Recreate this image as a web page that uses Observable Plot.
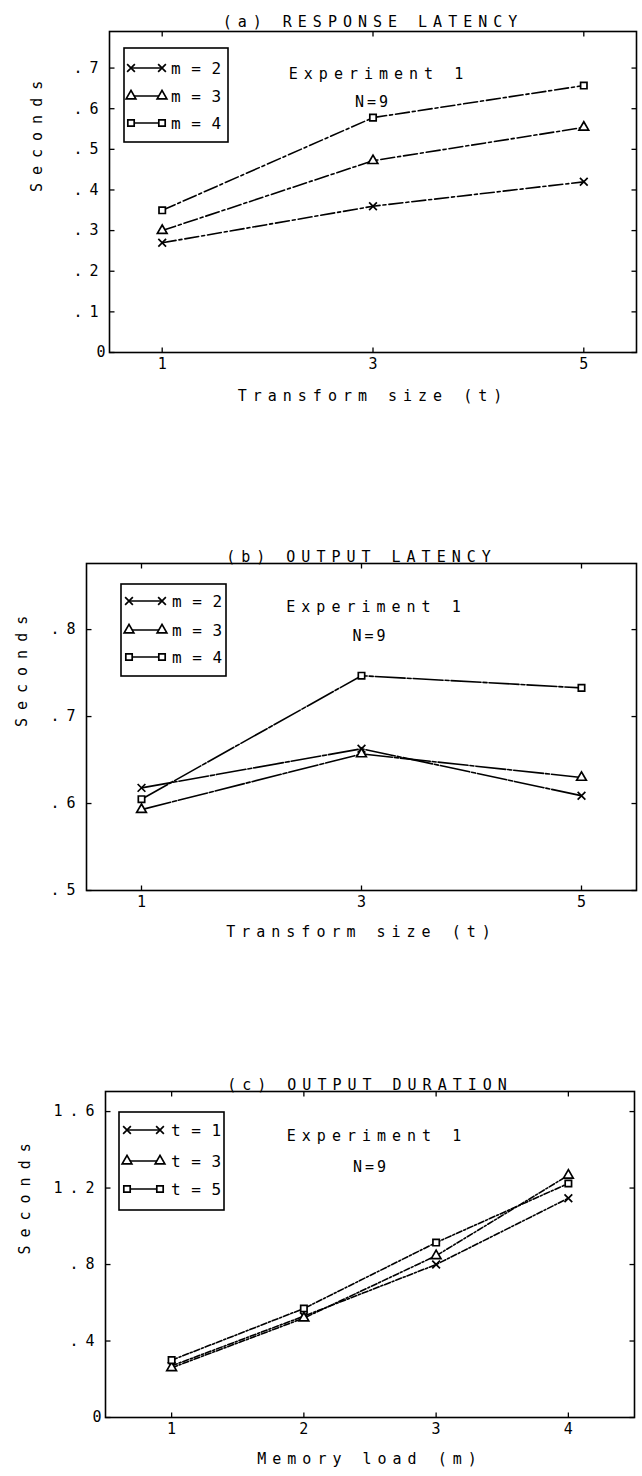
<!DOCTYPE html>
<html><head><meta charset="utf-8">
<script src="https://cdn.jsdelivr.net/npm/d3@7"></script>
<script src="https://cdn.jsdelivr.net/npm/@observablehq/plot@0.6"></script>
<style>
body{margin:0;background:#fff;}
#root{position:relative;width:642px;height:1476px;overflow:hidden;background:#fff;}
.panel{position:absolute;left:0;}
.panel svg text{font-family:"DejaVu Sans Mono",monospace;fill:#000;}
</style></head><body><div id="root"></div>
<script>
// ---- data ----
const tSizes = [1, 3, 5];
const memLoads = [1, 2, 3, 4];
const mNames = ["m = 2", "m = 3", "m = 4"];
const tNames = ["t = 1", "t = 3", "t = 5"];
const symbolNames = ["times", "triangle", "square"];

// (a) response latency (s) by transform size, one array per memory load
const respM2 = [0.27, 0.36, 0.42];
const respM3 = [0.30, 0.472, 0.554];
const respM4 = [0.35, 0.578, 0.657];
// (b) output latency (s)
const outLatM2 = [0.618, 0.663, 0.609];
const outLatM3 = [0.593, 0.657, 0.630];
const outLatM4 = [0.605, 0.747, 0.733];
// (c) output duration (s) by memory load, one array per transform size
const durT1 = [0.27, 0.53, 0.80, 1.147];
const durT3 = [0.26, 0.52, 0.846, 1.267];
const durT5 = [0.30, 0.57, 0.915, 1.224];

const yTicksA = [0, 0.1, 0.2, 0.3, 0.4, 0.5, 0.6, 0.7];
const yTicksB = [0.5, 0.6, 0.7, 0.8];
const yTicksC = [0, 0.4, 0.8, 1.2, 1.6];

function rows(xs, seriesList, names) {
  const out = [];
  seriesList.forEach((vals, i) => vals.forEach((v, j) => out.push({x: xs[j], y: v, s: names[i]})));
  return out;
}
const fmtY = d => d === 0 ? "0" : d3.format(".1f")(d).replace(/^0/, "");

const tickSym = (dx, dy) => ({draw(ctx) { ctx.moveTo(0, 0); ctx.lineTo(dx, dy); }});
const TL = 5;

function panel(cfg) {
  const data = rows(cfg.xs, cfg.series, cfg.names);
  const [x0, x1] = cfg.xd, [y0, y1] = cfg.yd;
  const svg = Plot.plot({
    width: 642, height: cfg.h,
    marginTop: cfg.mt, marginBottom: cfg.mb, marginLeft: cfg.ml, marginRight: cfg.mr,
    x: {domain: cfg.xd}, y: {domain: cfg.yd},
    symbol: {domain: cfg.names, range: symbolNames},
    style: {fontFamily: "DejaVu Sans Mono", fontSize: "15px", background: "white", color: "black", overflow: "visible"},
    marks: [
      Plot.frame({stroke: "black", strokeWidth: 1.6}),
      Plot.axisY(cfg.yTicks, {anchor: "left", tickSize: 0, tickPadding: cfg.yPad, tickFormat: fmtY, label: null, fontSize: 15}),
      Plot.axisX(cfg.xs, {anchor: "bottom", tickSize: 0, tickPadding: 6, tickFormat: d => String(d), label: null, fontSize: 15}),
      Plot.dot(cfg.yTicks, {x: x0, y: d => d, symbol: tickSym(TL, 0), fill: "none", stroke: "black", strokeWidth: 1.3}),
      Plot.dot(cfg.yTicks, {x: x1, y: d => d, symbol: tickSym(-TL, 0), fill: "none", stroke: "black", strokeWidth: 1.3}),
      Plot.dot(cfg.xs, {x: d => d, y: y0, symbol: tickSym(0, -TL), fill: "none", stroke: "black", strokeWidth: 1.3}),
      Plot.dot(cfg.xs, {x: d => d, y: y1, symbol: tickSym(0, TL), fill: "none", stroke: "black", strokeWidth: 1.3}),
      Plot.line(data, {x: "x", y: "y", z: "s", stroke: "black", strokeWidth: 1.6, strokeDasharray: cfg.dash}),
      Plot.dot(data, {x: "x", y: "y", symbol: "s", r: 3.6, fill: "white", stroke: "black", strokeWidth: 1.7}),
      Plot.text([cfg.title], {frameAnchor: "top", dy: cfg.titleDy, fontSize: 15}),
      Plot.text(["Experiment 1"], {frameAnchor: "top", dx: cfg.expDx, dy: cfg.expDy, fontSize: 15}),
      Plot.text(["N=9"], {frameAnchor: "top", dx: cfg.expDx - 6, dy: cfg.nDy, fontSize: 15}),
      Plot.text([cfg.xLabel], {frameAnchor: "bottom", dy: cfg.xLabelDy, fontSize: 15}),
      Plot.text(["Seconds"], {frameAnchor: "left", dx: cfg.yLabelDx, rotate: -90, fontSize: 15})
    ]
  });
  const s = d3.select(svg);
  s.selectAll("text").each(function() {
    const t = this.textContent;
    const el = d3.select(this);
    if (t === cfg.title || t === cfg.xLabel || t === "Experiment 1") el.style("letter-spacing", "6px");
    else if (t === "Seconds") el.style("letter-spacing", "8px");
    else if (t === "N=9") el.style("letter-spacing", "3px");
    else if (/^[0-9.]+$/.test(t) && t.length > 1) el.style("letter-spacing", "7px");
  });
  // legend box
  const g = s.append("g").attr("transform", `translate(${cfg.ml},${cfg.mt})`);
  const L = cfg.legend;
  g.append("rect").attr("x", L.x0).attr("y", L.y0).attr("width", L.x1 - L.x0).attr("height", L.y1 - L.y0)
    .attr("fill", "white").attr("stroke", "black").attr("stroke-width", 1.6);
  const symFns = [d3.symbolTimes, d3.symbolTriangle, d3.symbolSquare];
  cfg.names.forEach((name, i) => {
    const y = L.rows[i];
    g.append("line").attr("x1", L.lx0).attr("x2", L.lx1).attr("y1", y).attr("y2", y)
      .attr("stroke", "black").attr("stroke-width", 1.5);
    [L.lx0, L.lx1].forEach(x => {
      g.append("path").attr("d", d3.symbol(symFns[i], 3.6 * 3.6 * Math.PI)())
        .attr("transform", `translate(${x},${y})`).attr("fill", "white").attr("stroke", "black").attr("stroke-width", 1.7);
    });
    g.append("text").attr("x", L.tx).attr("y", y).attr("dy", "0.35em").attr("font-size", 16)
      .attr("text-anchor", "start").style("letter-spacing", "0.5px").text(name);
  });
  const div = document.createElement("div");
  div.className = "panel";
  div.style.top = cfg.top + "px";
  div.appendChild(svg);
  document.getElementById("root").appendChild(div);
}

panel({
  top: 0, h: 470, mt: 31, mb: 118, ml: 109, mr: 6,
  xd: [0.5, 5.5], yd: [0, 0.79], xs: tSizes, yTicks: yTicksA, yPad: 4,
  series: [respM2, respM3, respM4], names: mNames, dash: "14,3,3,3",
  title: "(a) RESPONSE LATENCY", titleDy: -15, expDx: 6, expDy: 37, nDy: 65,
  xLabel: "Transform size (t)", xLabelDy: 48, yLabelDx: -72,
  legend: {x0: 15, x1: 119, y0: 17, y1: 111, rows: [37, 65, 92], lx0: 22, lx1: 53, tx: 62}
});
panel({
  top: 470, h: 500, mt: 93, mb: 80, ml: 86, mr: 6,
  xd: [0.5, 5.5], yd: [0.5, 0.876], xs: tSizes, yTicks: yTicksB, yPad: 4,
  series: [outLatM2, outLatM3, outLatM4], names: mNames, dash: "30,2,4,2",
  title: "(b) OUTPUT LATENCY", titleDy: -12, expDx: 15, expDy: 38, nDy: 67,
  xLabel: "Transform size (t)", xLabelDy: 46, yLabelDx: -64,
  legend: {x0: 35, x1: 140, y0: 21, y1: 113, rows: [38, 67, 94], lx0: 43, lx1: 76, tx: 86}
});
panel({
  top: 970, h: 506, mt: 121, mb: 59, ml: 105, mr: 8,
  xd: [0.5, 4.5], yd: [0, 1.705], xs: memLoads, yTicks: yTicksC, yPad: 4,
  series: [durT1, durT3, durT5], names: tNames, dash: "6,2,2,2",
  title: "(c) OUTPUT DURATION", titleDy: -12, expDx: 7, expDy: 39, nDy: 70,
  xLabel: "Memory load (m)", xLabelDy: 46, yLabelDx: -80,
  legend: {x0: 14, x1: 119, y0: 21, y1: 119, rows: [39, 70, 98], lx0: 22, lx1: 55, tx: 66}
});
</script></body></html>
